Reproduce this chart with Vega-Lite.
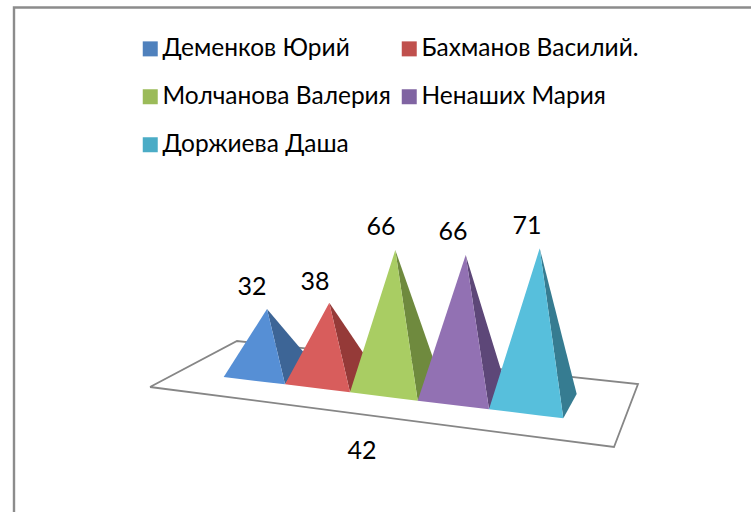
{
"$schema":"https://vega.github.io/schema/vega-lite/v6.json",
"width":751,"height":512,"padding":0,"autosize":{"type":"none"},"background":"white",
"config":{"view":{"stroke":null},"font":"Lato"},
"datasets":{
"frame":[{"seq":1,"gx":14,"gy":512},{"seq":2,"gx":14,"gy":7.5},{"seq":3,"gx":751,"gy":7.5}],
"floor":[{"seq":1,"gx":150,"gy":387},{"seq":2,"gx":237,"gy":341},{"seq":3,"gx":638,"gy":384},{"seq":4,"gx":614,"gy":447},{"seq":5,"gx":150,"gy":387}],
"faces":[
{"face":"Деменков Юрий тень","gx":267,"gy":309,"gy2":309},{"face":"Деменков Юрий тень","gx":285,"gy":330.2,"gy2":384.3},{"face":"Деменков Юрий тень","gx":306,"gy":355,"gy2":355},
{"face":"Деменков Юрий свет","gx":223.7,"gy":377,"gy2":377},{"face":"Деменков Юрий свет","gx":267,"gy":309,"gy2":382.2},{"face":"Деменков Юрий свет","gx":285,"gy":384.3,"gy2":384.3},
{"face":"Бахманов Василий. тень","gx":329.3,"gy":302.7,"gy2":302.7},{"face":"Бахманов Василий. тень","gx":350,"gy":333.3,"gy2":392.3},{"face":"Бахманов Василий. тень","gx":368,"gy":360,"gy2":360},
{"face":"Бахманов Василий. свет","gx":285,"gy":384.3,"gy2":384.3},{"face":"Бахманов Василий. свет","gx":329.3,"gy":302.7,"gy2":389.75},{"face":"Бахманов Василий. свет","gx":350,"gy":392.3,"gy2":392.3},
{"face":"Молчанова Валерия тень","gx":395.3,"gy":250,"gy2":250},{"face":"Молчанова Валерия тень","gx":417.7,"gy":314.1,"gy2":400.7},{"face":"Молчанова Валерия тень","gx":440,"gy":378,"gy2":378},
{"face":"Молчанова Валерия свет","gx":350,"gy":392.3,"gy2":392.3},{"face":"Молчанова Валерия свет","gx":395.3,"gy":250,"gy2":397.9},{"face":"Молчанова Валерия свет","gx":417.7,"gy":400.7,"gy2":400.7},
{"face":"Ненаших Мария тень","gx":465.7,"gy":255,"gy2":255},{"face":"Ненаших Мария тень","gx":489,"gy":331,"gy2":409.3},{"face":"Ненаших Мария тень","gx":505,"gy":383,"gy2":383},
{"face":"Ненаших Мария свет","gx":417.7,"gy":400.7,"gy2":400.7},{"face":"Ненаших Мария свет","gx":465.7,"gy":255,"gy2":406.5},{"face":"Ненаших Мария свет","gx":489,"gy":409.3,"gy2":409.3},
{"face":"Доржиева Даша тень","gx":539.7,"gy":248.3,"gy2":248.3},{"face":"Доржиева Даша тень","gx":563.3,"gy":341.2,"gy2":418.3},{"face":"Доржиева Даша тень","gx":576.7,"gy":394,"gy2":394},
{"face":"Доржиева Даша свет","gx":489,"gy":409.3,"gy2":409.3},{"face":"Доржиева Даша свет","gx":539.7,"gy":248.3,"gy2":415.4},{"face":"Доржиева Даша свет","gx":563.3,"gy":418.3,"gy2":418.3}
],
"labels":[
{"label":"32","gx":252,"gy":287},{"label":"38","gx":315,"gy":282},{"label":"66","gx":381,"gy":227},{"label":"66","gx":453,"gy":232},{"label":"71","gx":527,"gy":226},{"label":"42","gx":362,"gy":451}
]},
"layer":[
{"data":{"name":"frame"},"mark":{"type":"line","stroke":"#8c8c8c","strokeWidth":2.4,"clip":true},
 "encoding":{"x":{"field":"gx","type":"quantitative","scale":{"domain":[0,751],"nice":false,"zero":false},"axis":null},
 "y":{"field":"gy","type":"quantitative","scale":{"domain":[512,0],"nice":false,"zero":false},"axis":null},"order":{"field":"seq"}}},
{"data":{"name":"floor"},"mark":{"type":"line","stroke":"#868686","strokeWidth":1.8},
 "encoding":{"x":{"field":"gx","type":"quantitative","axis":null},"y":{"field":"gy","type":"quantitative","axis":null},"order":{"field":"seq"}}},
{"data":{"name":"faces"},"mark":{"type":"area","interpolate":"linear"},
 "encoding":{"x":{"field":"gx","type":"quantitative","axis":null},"y":{"field":"gy","type":"quantitative","axis":null},"y2":{"field":"gy2"},
 "color":{"field":"face","type":"nominal","sort":null,
  "scale":{"domain":["Деменков Юрий","Молчанова Валерия","Доржиева Даша","Бахманов Василий.","Ненаших Мария","Деменков Юрий свет","Деменков Юрий тень","Бахманов Василий. свет","Бахманов Василий. тень","Молчанова Валерия свет","Молчанова Валерия тень","Ненаших Мария свет","Ненаших Мария тень","Доржиева Даша свет","Доржиева Даша тень"],
  "range":["#4F81BD","#9BBB59","#4BACC6","#C0504D","#8064A2","#568FD5","#3D6596","#D85D5C","#953A38","#A9CD63","#6F8A3E","#9271B3","#5D4778","#57BFDC","#367C91"]},
  "legend":{"title":null,"orient":"none","legendX":138,"legendY":36.5,"columns":2,"values":["Деменков Юрий","Молчанова Валерия","Доржиева Даша","Бахманов Василий.","Ненаших Мария"],"symbolType":"square","symbolSize":225,"symbolStrokeWidth":0,"labelFont":"Lato","labelFontSize":24.5,"labelColor":"#000000","labelLimit":300,"labelOffset":0,"rowPadding":23,"columnPadding":6,"padding":0,"gridAlign":"each"}}}},
{"data":{"name":"labels"},"mark":{"type":"text","font":"Lato","fontSize":25,"color":"#000000","align":"center","baseline":"middle"},
 "encoding":{"x":{"field":"gx","type":"quantitative","axis":null},"y":{"field":"gy","type":"quantitative","axis":null},"text":{"field":"label"}}}
]
}
